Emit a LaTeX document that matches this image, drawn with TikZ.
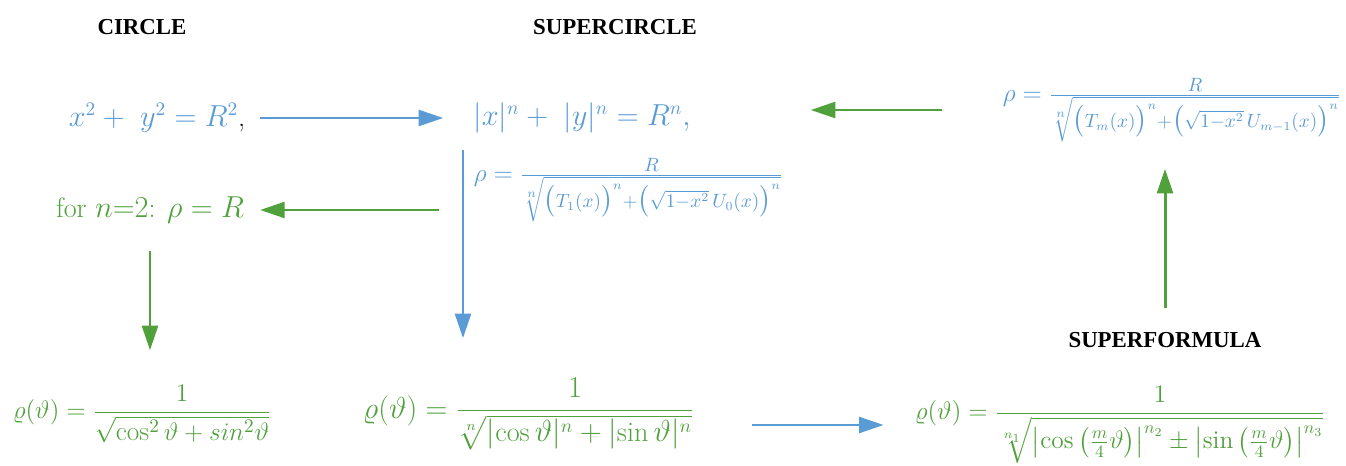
\documentclass[tikz,border=0pt]{standalone}
\usepackage{amsmath,amssymb}
\usepackage{fontspec}
\usepackage{tikz}
\usetikzlibrary{arrows.meta}

\newfontfamily\headfont{Liberation Serif}
\definecolor{eqblue}{RGB}{91,155,213}
\definecolor{eqgreen}{RGB}{80,160,60}

\begin{document}
\begin{tikzpicture}[
    heading/.style={font=\headfont\fontsize{13}{16}\selectfont\bfseries},
    eq/.style={font=\fontsize{16}{19}\selectfont, inner sep=1pt},
    blueeq/.style={eq, text=eqblue},
    greeneq/.style={eq, text=eqgreen},
    flow/.style={-{Triangle[length=14pt, width=9pt]}, line width=1.7pt},
]
  \useasboundingbox (0,0) rectangle (26.92,-9.32);

  % Headings
  \node[heading] (tcircle) at (2.84,-0.54) {CIRCLE};
  \node[heading] (tsuper) at (12.30,-0.54) {SUPERCIRCLE};
  \node[heading] (tformula) at (23.30,-6.80) {SUPERFORMULA};

  % Equations, top rows
  \node[blueeq] (eqcircle) at (3.14,-2.36) {$x^2+\ y^2=R^2$\textcolor{black}{,}};
  \node[blueeq] (eqsuper) at (11.64,-2.36) {$|x|^n+\ |y|^n=R^n,$};
  \node[blueeq, font=\fontsize{15}{18}\selectfont] (rhogen) at (23.44,-2.20)
    {$\rho=\frac{R}{\sqrt[n]{\bigl(T_m(x)\bigr)^n+\bigl(\sqrt{1-x^2}\,U_{m-1}(x)\bigr)^n}}$};
  \node[blueeq, font=\fontsize{15}{18}\selectfont] (rhosuper) at (12.57,-3.80)
    {$\rho=\frac{R}{\sqrt[n]{\bigl(T_1(x)\bigr)^n+\bigl(\sqrt{1-x^2}\,U_0(x)\bigr)^n}}$};
  \node[greeneq] (forn) at (3.00,-4.20) {for $n{=}2$: $\rho=R$};

  % Equations, bottom row
  \node[greeneq, font=\fontsize{15.5}{18}\selectfont] (rcircle) at (2.84,-8.28)
    {$\varrho(\vartheta)=\dfrac{1}{\sqrt{\cos^2\vartheta+sin^2\vartheta}}$};
  \node[greeneq] (rsuper) at (10.57,-8.28)
    {$\varrho(\vartheta)=\dfrac{1}{\sqrt[n]{\lvert\cos\vartheta\rvert^n+\lvert\sin\vartheta\rvert^n}}$};
  \node[greeneq, font=\fontsize{14.5}{17}\selectfont] (rformula) at (22.40,-8.50)
    {$\varrho(\vartheta)=\dfrac{1}{\sqrt[n_1]{\left|\cos\left(\frac{m}{4}\vartheta\right)\right|^{n_2}\pm\left|\sin\left(\frac{m}{4}\vartheta\right)\right|^{n_3}}}$};

  \coordinate (vline) at (9.26,0);

  % Arrows
  \draw[flow, eqblue, shorten <=0.26cm, shorten >=0.56cm] (eqcircle) -- (eqsuper);
  \draw[flow, eqgreen, shorten <=1.18cm, shorten >=2.36cm] (rhogen.west) -- (eqsuper.east |- rhogen.west);
  \draw[flow, eqgreen, shorten <=0.66cm, shorten >=0.28cm] (rhosuper.west |- forn) -- (forn.east);
  \draw[flow, eqgreen, shorten <=0.52cm, shorten >=0.66cm] (forn.south) -- (forn.south |- rcircle.north);
  \draw[flow, eqblue, shorten <=0.3cm, shorten >=0.76cm] (eqsuper.south -| vline) -- (rsuper.north -| vline);
  \draw[flow, eqblue, shorten <=1.12cm, shorten >=0.58cm] (rsuper.east |- rformula) -- (rformula.west);
  \draw[flow, eqgreen, shorten <=0.36cm, shorten >=0.5cm] (tformula.north) -- (tformula.north |- rhogen.south);
\end{tikzpicture}
\end{document}
